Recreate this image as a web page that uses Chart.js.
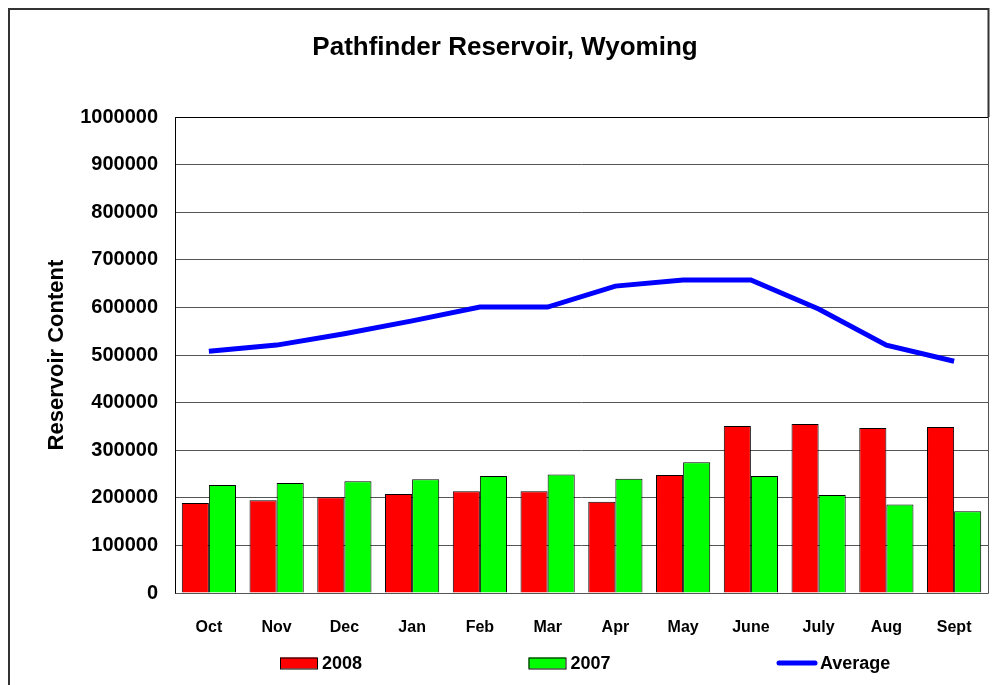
<!DOCTYPE html>
<html>
<head>
<meta charset="utf-8">
<script src="https://cdn.jsdelivr.net/npm/chart.js@4.4.1/dist/chart.umd.min.js"></script>
<style>
  html, body { margin: 0; padding: 0; background: #fff; }
  canvas { display: block; }
</style>
</head>
<body>
<canvas id="chart" width="997" height="685"></canvas>
<script>
// ==========================
// DATA
// ==========================
var months   = ['Oct', 'Nov', 'Dec', 'Jan', 'Feb', 'Mar', 'Apr', 'May', 'June', 'July', 'Aug', 'Sept'];
var vals2008 = [189000, 195000, 201000, 208000, 214000, 214000, 192000, 248000, 351000, 355000, 347000, 349000];
var vals2007 = [227000, 231000, 235000, 239000, 246000, 249000, 240000, 275000, 246000, 206000, 186000, 172000];
var avgVals  = [508000, 521000, 545000, 572000, 601000, 601000, 645000, 658000, 658000, 597000, 521000, 487000];
var yTicks   = [0, 100000, 200000, 300000, 400000, 500000, 600000, 700000, 800000, 900000, 1000000];

var FONT = '"Liberation Sans", Arial, sans-serif';

// ==========================
// FRAME + PLOT BORDER
// ==========================
var framePlugin = {
  id: 'frame',
  afterDraw: function(chart) {
    var ctx = chart.ctx;
    var a = chart.chartArea;
    ctx.save();
    // plot border
    ctx.strokeStyle = '#555';
    ctx.lineWidth = 1;
    ctx.beginPath();
    ctx.moveTo(Math.round(a.right) + 0.5, Math.round(a.top) + 0.5);
    ctx.lineTo(Math.round(a.right) + 0.5, Math.round(a.bottom) + 0.5);
    ctx.lineTo(Math.round(a.left) + 0.5, Math.round(a.bottom) + 0.5);
    ctx.stroke();
    ctx.strokeStyle = '#000';
    ctx.beginPath();
    ctx.moveTo(Math.round(a.left) + 0.5, Math.round(a.bottom) + 0.5);
    ctx.lineTo(Math.round(a.left) + 0.5, Math.round(a.top) + 0.5);
    ctx.lineTo(Math.round(a.right) + 0.5, Math.round(a.top) + 0.5);
    ctx.stroke();
    // outer frame
    ctx.strokeStyle = '#333';
    ctx.lineWidth = 2;
    ctx.beginPath();
    ctx.moveTo(9, 700);
    ctx.lineTo(9, 9);
    ctx.lineTo(Math.round(a.right) + 0.5, 9);
    ctx.lineTo(Math.round(a.right) + 0.5, Math.round(a.top));
    ctx.stroke();
    ctx.restore();
  }
};

// ==========================
// LEGEND (spread out like the original)
// ==========================
var legendPlugin = {
  id: 'spreadLegend',
  afterDraw: function(chart) {
    var ctx = chart.ctx;
    var ds = chart.data.datasets;
    var startX = 280, stepX = 248.5, cy = 663;
    ctx.save();
    ctx.font = 'bold 18px ' + FONT;
    ctx.textBaseline = 'middle';
    ctx.fillStyle = '#000';
    ds.forEach(function(d, i) {
      var x = startX + i * stepX;
      if (d.type === 'line') {
        ctx.strokeStyle = d.borderColor;
        ctx.lineWidth = 5;
        ctx.lineCap = 'round';
        ctx.beginPath();
        ctx.moveTo(x + 2, cy);
        ctx.lineTo(x + 38, cy);
        ctx.stroke();
        ctx.fillText(d.label, x + 43, cy + 1);
      } else {
        ctx.fillStyle = d.backgroundColor;
        ctx.fillRect(x, cy - 5.5, 37, 11);
        ctx.strokeStyle = '#000';
        ctx.lineWidth = 1;
        ctx.strokeRect(x + 0.5, cy - 5, 37, 11);
        ctx.fillStyle = '#000';
        ctx.fillText(d.label, x + 42, cy + 1);
      }
    });
    ctx.restore();
  }
};

// ==========================
// CHART
// ==========================
new Chart(document.getElementById('chart'), {
  data: {
    labels: months,
    datasets: [
      {
        type: 'bar',
        label: '2008',
        data: vals2008,
        backgroundColor: '#FF0000',
        borderColor: '#000',
        borderWidth: 1,
        categoryPercentage: 0.8,
        barPercentage: 1.0,
        order: 1
      },
      {
        type: 'bar',
        label: '2007',
        data: vals2007,
        backgroundColor: '#00FF00',
        borderColor: '#000',
        borderWidth: 1,
        categoryPercentage: 0.8,
        barPercentage: 1.0,
        order: 1
      },
      {
        type: 'line',
        label: 'Average',
        data: avgVals,
        borderColor: '#0000FF',
        borderWidth: 5,
        pointRadius: 0,
        tension: 0,
        fill: false,
        order: 0
      }
    ]
  },
  options: {
    responsive: false,
    animation: false,
    layout: { padding: { left: 22, right: 9, top: 0, bottom: 45 } },
    plugins: {
      legend: { display: false },
      tooltip: { enabled: false },
      title: {
        display: true,
        text: 'Pathfinder Reservoir, Wyoming',
        color: '#000',
        font: { family: FONT, size: 26, weight: 'bold' },
        padding: { top: 32, bottom: 54 }
      }
    },
    scales: {
      x: {
        grid: { display: false },
        border: { display: false },
        ticks: {
          color: '#000',
          font: { family: FONT, size: 16, weight: 'bold' },
          padding: 17,
          maxRotation: 0
        },
        afterFit: function(scale) { scale.height = 47; }
      },
      y: {
        min: 0,
        max: 1000000,
        afterBuildTicks: function(scale) {
          scale.ticks = yTicks.map(function(v) { return { value: v }; });
        },
        grid: { color: '#555', lineWidth: 1, drawTicks: false },
        border: { display: false },
        ticks: {
          color: '#000',
          font: { family: FONT, size: 20, weight: 'bold' },
          padding: 17,
          callback: function(v) { return String(v); }
        },
        title: {
          display: true,
          text: 'Reservoir Content',
          color: '#000',
          font: { family: FONT, size: 22, weight: 'bold' },
          padding: { top: 22, bottom: 0 }
        },
        afterFit: function(scale) { scale.width = 153; }
      }
    }
  },
  plugins: [framePlugin, legendPlugin]
});
</script>
</body>
</html>
